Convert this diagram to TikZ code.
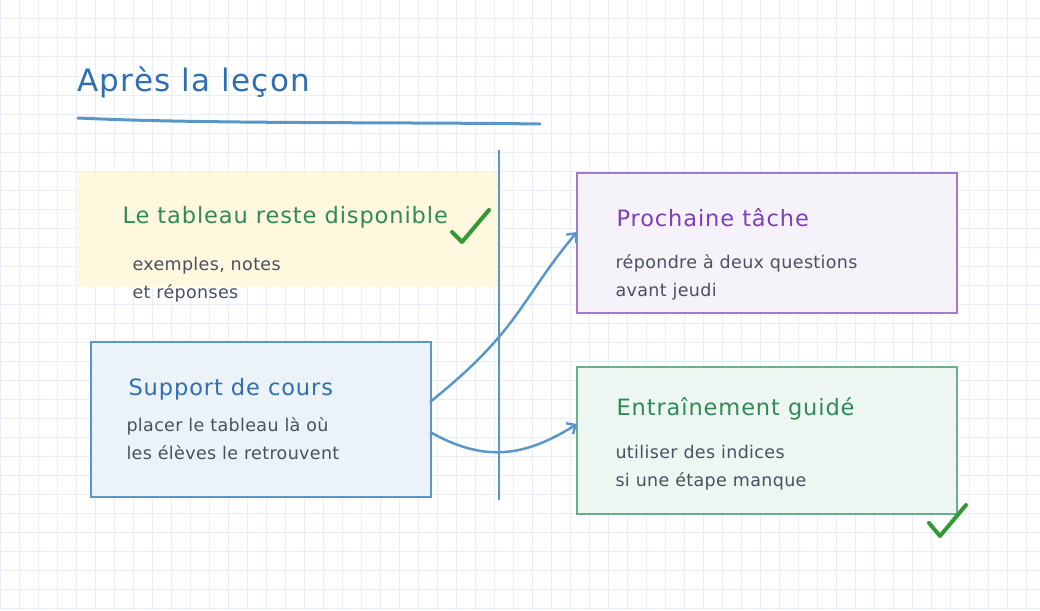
\documentclass[tikz,border=0pt]{standalone}
\usepackage{fontspec}
\usetikzlibrary{arrows.meta}
\setmainfont{DejaVu Sans}
\newfontfamily\headfont[LetterSpace=4]{DejaVu Sans}
\newfontfamily\bodyfont[LetterSpace=2]{DejaVu Sans}
\begin{document}
\begin{tikzpicture}[x=1pt,y=-1pt,
 head/.style={anchor=west,font=\headfont\fontsize{22.5}{26}\selectfont},
 body/.style={anchor=north west,align=left,text=bodyc,font=\bodyfont\fontsize{17.5}{27.5}\selectfont},
 check/.style={line width=4pt,line cap=round,line join=round,draw=green!50!black!80}]
\definecolor{ttl}{HTML}{2F6FB0}
\definecolor{ln}{HTML}{5A97C8}
\definecolor{grn}{HTML}{2E8B57}
\definecolor{pur}{HTML}{7E3FB8}
\definecolor{grid}{HTML}{E8EEF7}
\definecolor{bodyc}{HTML}{4A5060}
\fill[white] (0,0) rectangle (1040,610);
\useasboundingbox (0,0) rectangle (1040,610);
\foreach \i in {0,...,55} \draw[grid,line width=1pt] (\i*19,0) -- (\i*19,610);
\foreach \j in {0,...,32} \draw[grid,line width=1pt] (0,\j*19) -- (1040,\j*19);
\node[head,text=ttl,font=\headfont\fontsize{31}{36}\selectfont] (title) at (74,82) {Après la leçon};
\draw[ln,line width=3pt,line cap=round] (78,118) .. controls (200,124) and (400,122) .. (540,124);
\draw[ln,line width=2pt] (499,150) -- (499,500);
\node[fill=yellow!60!orange!12,minimum width=420,minimum height=115,anchor=north west] (b1) at (78,172) {};
\node[head,text=grn] (t1) at (119,217) {Le tableau reste disponible};
\node[body] (d1) at (129,254) {exemples, notes\\et réponses};
\draw[check] (452,232) -- (462,242) -- (489,210);
\node[draw=ln,line width=2pt,fill=ln!12,minimum width=340,minimum height=155,anchor=north west] (b2) at (90,341) {};
\node[head,text=ttl] (t2) at (125,389) {Support de cours};
\node[body] (d2) at (123,414) {placer le tableau là où\\les élèves le retrouvent};
\node[draw=pur!70,line width=2pt,fill=pur!7,minimum width=380,minimum height=140,anchor=north west] (b3) at (576,172) {};
\node[head,text=pur] (t3) at (613,218) {Prochaine tâche};
\node[body] (d3) at (612,251) {répondre à deux questions\\avant jeudi};
\node[draw=grn!70,line width=2pt,fill=grn!8,minimum width=380,minimum height=147,anchor=north west] (b4) at (576,366) {};
\node[head,text=grn] (t4) at (613,409) {Entraînement guidé};
\node[body] (d4) at (612,442) {utiliser des indices\\si une étape manque};
\draw[check] (929,523) -- (940,536) -- (966,505);
\coordinate (a1) at (430,402);
\coordinate (a2) at (430,432);
\coordinate (e1) at (577,232);
\coordinate (e2) at (577,424);
\draw[ln,line width=2.5pt,-{Straight Barb[length=7pt,width=13pt]}] (a1) .. controls (520,330) and (520,300) .. (e1);
\draw[ln,line width=2.5pt,-{Straight Barb[length=7pt,width=13pt]}] (a2) .. controls (480,460) and (520,460) .. (e2);
\end{tikzpicture}
\end{document}
